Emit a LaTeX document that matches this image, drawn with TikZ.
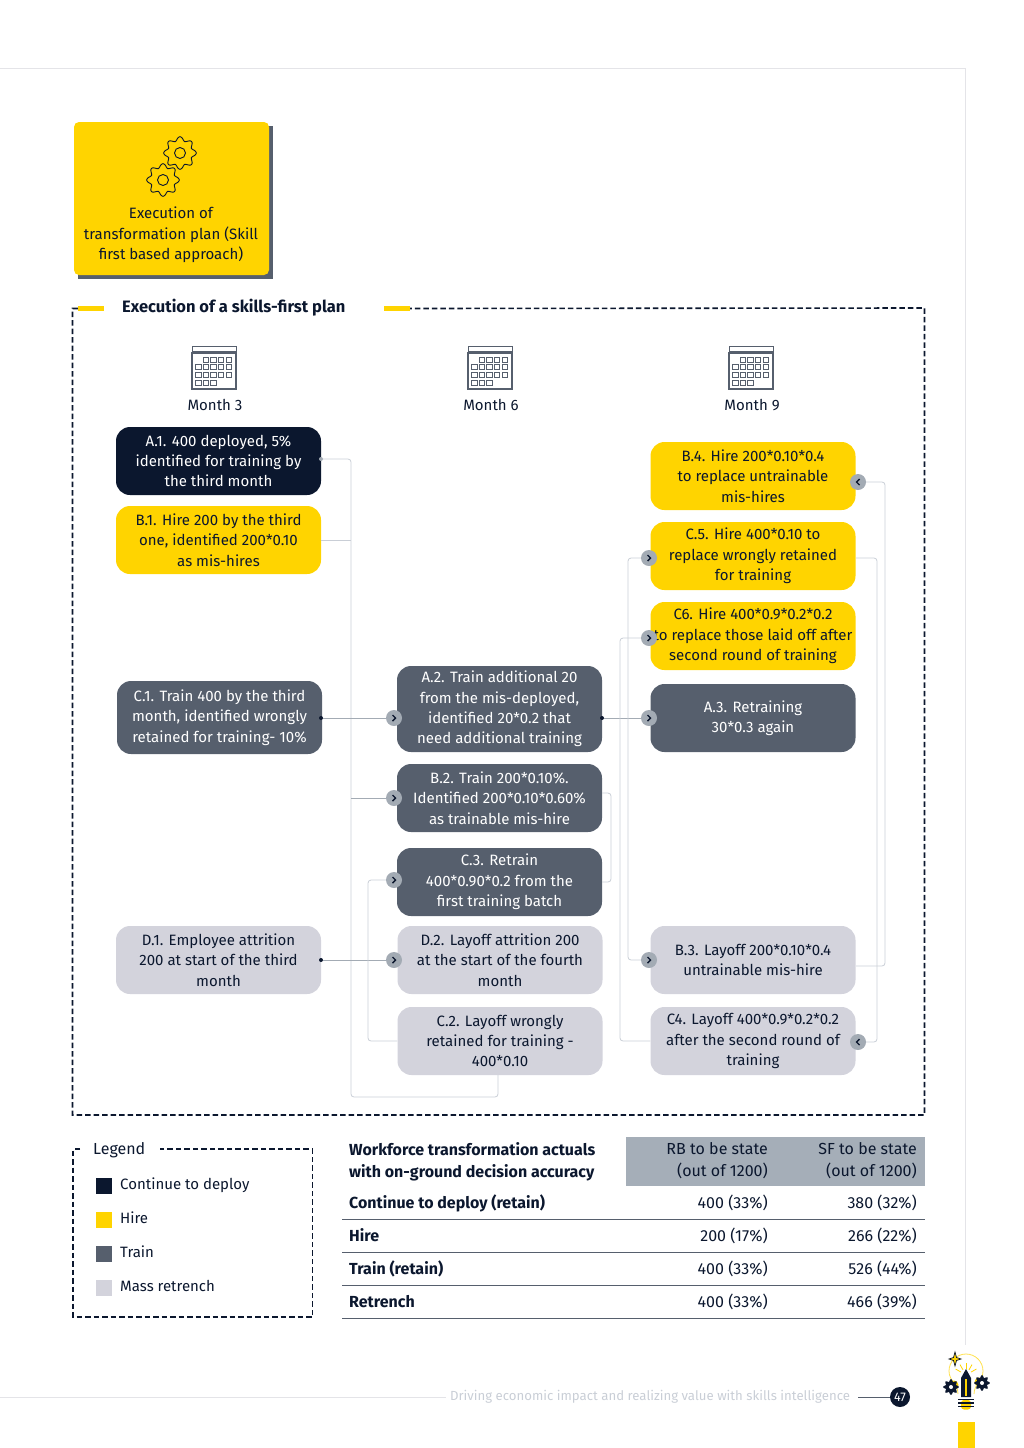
\documentclass[tikz,border=0pt]{standalone}
\usepackage{fontspec}
\setmainfont{Fira Sans}
\usepackage{xcolor}
\usetikzlibrary{positioning, calc}

\definecolor{deployblue}{HTML}{0B172E}
\definecolor{hireyellow}{HTML}{FFD400}
\definecolor{trainslate}{HTML}{565F6D}
\definecolor{retrenchgrey}{HTML}{D3D3DC}
\definecolor{linkgrey}{HTML}{C9CED6}
\definecolor{chipgrey}{HTML}{A3ABB4}
\definecolor{headgrey}{HTML}{A5AEB8}
\definecolor{pagegrey}{HTML}{E4E4E8}

\tikzset{
    planbox/.style={rounded corners=14pt, minimum width=205pt, minimum height=68pt, inner sep=0pt,
        align=center, font=\fontsize{15}{20.3}\selectfont},
    deploybox/.style={planbox, fill=deployblue, text=white},
    hirebox/.style={planbox, fill=hireyellow, text=deployblue},
    trainbox/.style={planbox, fill=trainslate, text=white},
    retrenchbox/.style={planbox, fill=retrenchgrey, text=deployblue},
    link/.style={draw=linkgrey, line width=0.8pt, rounded corners=3pt},
    flatlink/.style={draw=chipgrey, line width=0.8pt},
    linkdot/.style={circle, fill=deployblue, minimum size=4pt, inner sep=0pt},
    chip/.style={circle, fill=chipgrey, minimum size=16pt, inner sep=0pt},
    chipright/.style={chip, path picture={\draw[deployblue, line width=1.4pt]
        ([xshift=-1.5pt,yshift=3pt]path picture bounding box.center) -- ++(3pt,-3pt) -- ++(-3pt,-3pt);}},
    chipleft/.style={chip, path picture={\draw[deployblue, line width=1.4pt]
        ([xshift=1.5pt,yshift=3pt]path picture bounding box.center) -- ++(-3pt,-3pt) -- ++(3pt,-3pt);}},
    frame/.style={draw=deployblue, line width=1.6pt, dash pattern=on 5.5pt off 3pt},
    plain/.style={inner sep=0pt, font=\fontsize{15}{20.3}\selectfont, text=deployblue, align=center},
    cell/.style={plain, text height=11pt, text depth=3pt},
    headcell/.style={plain, font=\fontsize{16}{22}\selectfont\bfseries, align=left},
    swatch/.style={minimum size=16pt, inner sep=0pt},
    pics/gearicon/.style={code={
        \draw[deployblue, fill=hireyellow, line width=0.9pt] plot[domain=0:360, samples=97, smooth]
            (\x:{14.3+2*cos(8*\x)}) -- cycle;
        \draw[deployblue, line width=0.9pt] (0,0) circle (5.5);
    }},
    pics/bulbgear/.style={code={
        \fill[deployblue] plot[domain=0:360, samples=97, smooth] (\x:{6.6+1.2*cos(8*\x)}) -- cycle;
        \fill[white] (0,0) circle (2);
    }},
    pics/calendaricon/.style={code={
        \draw[trainslate, line width=1pt] (-22,-21) rectangle (22,-16);
        \draw[trainslate, line width=1.2pt] (-22,-14) rectangle (22,22);
        \foreach \col in {1,...,4} \draw[trainslate, line width=0.9pt] (-18.3+7.6*\col,-10) rectangle ++(5.4,5);
        \foreach \col in {0,...,4} \draw[trainslate, line width=0.9pt] (-18.3+7.6*\col,-2.5) rectangle ++(5.4,5);
        \foreach \col in {0,...,4} \draw[trainslate, line width=0.9pt] (-18.3+7.6*\col,5) rectangle ++(5.4,5);
        \foreach \col in {0,...,2} \draw[trainslate, line width=0.9pt] (-18.3+7.6*\col,13) rectangle ++(5.4,5);
    }}
}

\begin{document}
\begin{tikzpicture}[x=1pt, y=-1pt]
    \useasboundingbox (0,0) rectangle (1024,1448);

    % Page lines
    \coordinate (pagetl) at (0,68);
    \coordinate (pagetr) at (965,68);
    \coordinate (pagebr) at (965,1345);
    \draw[pagegrey, line width=0.8pt] (pagetl) -- (pagetr) -- (pagebr);

    % Heading card
    \fill[trainslate] (78,126) rectangle (273,279);
    \node[hirebox, rounded corners=5pt, minimum width=195pt, minimum height=153pt] (card) at (171.5,198.5) {};
    \pic at (180,153) {gearicon};
    \pic at (163,180) {gearicon};
    \node[plain] (cardtext) at (171,235) {Execution of\\transformation plan (Skill\\first based approach)};

    % Main frame and its title
    \node[plain, font=\fontsize{16.5}{20}\selectfont\bfseries, anchor=west] (plantitle) at (122,308) {Execution of a skills-first plan};
    \node[fill=hireyellow, minimum width=26pt, minimum height=5pt, inner sep=0pt] (titlebarl) at (91,308.5) {};
    \node[fill=hireyellow, minimum width=26pt, minimum height=5pt, inner sep=0pt] (titlebarr) at (397,308.5) {};
    \coordinate (framebl) at (72.5,1115);
    \coordinate (frametr) at (924.5,308);
    \draw[frame] (titlebarl.west) -| (framebl) -| (frametr) -- (titlebarr.east);

    % Months
    \pic at (214,367) {calendaricon};
    \pic at (490,367) {calendaricon};
    \pic at (751,367) {calendaricon};
    \node[plain] (month3) at (215,405) {Month 3};
    \node[plain] (month6) at (491,405) {Month 6};
    \node[plain] (month9) at (752,405) {Month 9};

    % First column
    \node[deploybox] (a1) at (218.5,461) {A.1. 400 deployed, 5\%\\identified for training by\\the third month};
    \node[hirebox] (b1) at (218.5,540) {B.1. Hire 200 by the third\\one, identified 200*0.10\\as mis-hires};
    \node[trainbox, minimum height=73pt] (c1) at (219.5,717.5) {C.1. Train 400 by the third\\month, identified wrongly\\retained for training- 10\%};
    \node[retrenchbox] (d1) at (218.5,960) {D.1. Employee attrition\\200 at start of the third\\month};

    % Second column
    \node[trainbox, minimum height=86pt] (a2) at (499.5,709) {A.2. Train additional 20\\from the mis-deployed,\\identified 20*0.2 that\\need additional training};
    \node[trainbox] (b2) at (499.5,798) {B.2. Train 200*0.10\%.\\Identified 200*0.10*0.60\%\\as trainable mis-hire};
    \node[trainbox] (c3) at (499.5,882) {C.3. Retrain\\400*0.90*0.2 from the\\first training batch};
    \node[retrenchbox] (d2) at (500,960) {D.2. Layoff attrition 200\\at the start of the fourth\\month};
    \node[retrenchbox] (c2) at (500,1041) {C.2. Layoff wrongly\\retained for training -\\400*0.10};

    % Third column
    \node[hirebox] (b4) at (753,476) {B.4. Hire 200*0.10*0.4\\to replace untrainable\\mis-hires};
    \node[hirebox] (c5) at (753,556) {C.5. Hire 400*0.10 to\\replace wrongly retained\\for training};
    \node[hirebox] (c6) at (753,636) {C6. Hire 400*0.9*0.2*0.2\\to replace those laid off after\\second round of training};
    \node[trainbox] (a3) at (753,718) {A.3. Retraining\\30*0.3 again};
    \node[retrenchbox] (b3) at (753,960) {B.3. Layoff 200*0.10*0.4\\untrainable mis-hire};
    \node[retrenchbox] (c4) at (753,1041) {C4. Layoff 400*0.9*0.2*0.2\\after the second round of\\training};

    % Dots and chips
    \node[linkdot, fill=chipgrey] (a1dot) at (321,459) {};
    \node[linkdot] (c1dot) at (321,718) {};
    \node[linkdot] (a2dot) at (602,718) {};
    \node[linkdot] (d1dot) at (321,960) {};
    \node[chipright] (a2chip) at (394,718) {};
    \node[chipright] (b2chip) at (394,798) {};
    \node[chipright] (c3chip) at (394,880) {};
    \node[chipright] (d2chip) at (394,960) {};
    \node[chipright] (a3chip) at (649,718) {};
    \node[chipright] (c5chip) at (649,558) {};
    \node[chipright] (c6chip) at (649,638) {};
    \node[chipright] (b3chip) at (649,960) {};
    \node[chipleft] (b4chip) at (858,482) {};
    \node[chipleft] (c4chip) at (858,1042) {};

    % Rails and off-centre ends
    \coordinate (railone) at (351,1097);
    \coordinate (railtwo) at (368,1000);
    \coordinate (railthree) at (611,840);
    \coordinate (railfour) at (620,1000);
    \coordinate (railfive) at (628,800);
    \coordinate (railsix) at (877,800);
    \coordinate (railseven) at (885,800);
    \coordinate (c2out) at (498,1075);
    \coordinate (b2out) at (602,793);
    \coordinate (c5out) at (856,558);
    \coordinate (b3out) at (856,966);

    % Connectors
    \draw[link] (a1dot) -| (railone) -| (c2out);
    \draw[link] (b1.east) -- (b1.east -| railone);
    \draw[flatlink] (railone |- b2chip) -- (b2chip);
    \draw[flatlink] (c1dot) -- (a2chip);
    \draw[flatlink] (d1dot) -- (d2chip);
    \draw[flatlink] (a2dot) -- (a3chip);
    \draw[link] (c2.west) -- (c2.west -| railtwo) |- (c3chip);
    \draw[link] (b2out) -- (b2out -| railthree) |- (c3.east);
    \draw[link] (c6chip) -- (c6chip -| railfour) |- (c4.west);
    \draw[link] (c5chip) -- (c5chip -| railfive) |- (b3chip);
    \draw[link] (c5out) -- (c5out -| railsix) |- (c4chip);
    \draw[link] (b3out) -- (b3out -| railseven) |- (b4chip);

    % Legend
    \node[plain, anchor=west, font=\fontsize{16}{20}\selectfont] (legendtitle) at (93,1150) {Legend};
    \coordinate (legendtl) at (80,1149);
    \coordinate (legendbr) at (312.5,1317);
    \coordinate (legendtr) at (160,1149);
    \draw[frame, line width=1.4pt] (legendtl) -- (73,1149) |- (legendbr) |- (legendtr);
    \foreach \name/\shade/\ypos/\txt in {deploy/deployblue/1186/Continue to deploy, hire/hireyellow/1220/Hire, train/trainslate/1254/Train, retrench/retrenchgrey/1288/Mass retrench} {
        \node[swatch, fill=\shade] (sw\name) at (104,\ypos) {};
        \node[cell, anchor=west] (lab\name) at (120,\ypos-1) {\txt};
    }

    % Table
    \fill[headgrey] (626,1137) rectangle (925,1186);
    \node[headcell, anchor=north west] (tablehead) at (349,1142) {Workforce transformation actuals\\with on-ground decision accuracy};
    \node[plain, anchor=north east, align=right, font=\fontsize{16}{22}\selectfont] (headrb) at (768,1142) {RB to be state\\(out of 1200)};
    \node[plain, anchor=north east, align=right, font=\fontsize{16}{22}\selectfont] (headsf) at (917,1142) {SF to be state\\(out of 1200)};
    \foreach \row/\ypos/\txt/\rb/\sf in {a/1204/Continue to deploy (retain)/400 (33\%)/380 (32\%), b/1237/Hire/200 (17\%)/266 (22\%), c/1270/Train (retain)/400 (33\%)/526 (44\%), d/1303/Retrench/400 (33\%)/466 (39\%)} {
        \node[cell, anchor=west, font=\fontsize{16}{20}\selectfont\bfseries] (row\row) at (349,\ypos) {\txt};
        \node[cell, anchor=east, font=\fontsize{16}{20}\selectfont] (rb\row) at (768,\ypos) {\rb};
        \node[cell, anchor=east, font=\fontsize{16}{20}\selectfont] (sf\row) at (917,\ypos) {\sf};
        \coordinate (rulel\row) at (342,\ypos+15);
        \coordinate (ruler\row) at (925,\ypos+15);
        \draw[trainslate, line width=1pt] (rulel\row) -- (ruler\row);
    }

    % Footer
    \node[plain, text=linkgrey, font=\fontsize{13.2}{16}\selectfont] (footer) at (650,1397) {Driving economic impact and realizing value with skills intelligence};
    \node[circle, fill=deployblue, text=white, minimum size=20pt, inner sep=0pt, font=\fontsize{12.5}{14}\selectfont] (pageno) at (900,1397) {47};
    \coordinate (footstart) at (0,1397);
    \coordinate (footend) at (446,1397);
    \coordinate (pagelead) at (858,1397);
    \draw[pagegrey, line width=0.8pt] (footstart) -- (footend);
    \draw[trainslate, line width=0.8pt] (pagelead) -- (pageno);

    % Bulb
    \fill[hireyellow] (958,1422) rectangle (975,1448);
    \draw[hireyellow!70, line width=0.8pt] (958,1394) .. controls (958,1384) and (949,1381) .. (949,1371) arc (180:360:17) .. controls (983,1381) and (974,1384) .. (974,1394);
    \foreach \ang in {-150,-120,-90,-60,-30} \draw[hireyellow, line width=0.8pt] (966,1375) ++(\ang:6) -- ++(\ang:6);
    \fill[hireyellow] (954,1385) circle (4.5);
    \fill[hireyellow] (979,1382) circle (4.5);
    \pic at (951,1387) {bulbgear};
    \pic at (982,1383) {bulbgear};
    \fill[deployblue] (966,1369) -- (971,1378) -- (971,1397) -- (961,1397) -- (961,1378) -- cycle;
    \fill[hireyellow] (965,1379) rectangle (967,1396);
    \fill[hireyellow, rounded corners=3pt] (961,1400) rectangle (971,1409.5);
    \foreach \ypos in {1398.5,1402,1405.5} \fill[deployblue] (958,\ypos) rectangle (974,\ypos+1.8);
    \draw[deployblue, fill=hireyellow, line width=0.7pt] (955,1352) -- (956.5,1357.5) -- (961,1359) -- (956.5,1360.5) -- (955,1366) -- (953.5,1360.5) -- (949,1359) -- (953.5,1357.5) -- cycle;
\end{tikzpicture}
\end{document}
